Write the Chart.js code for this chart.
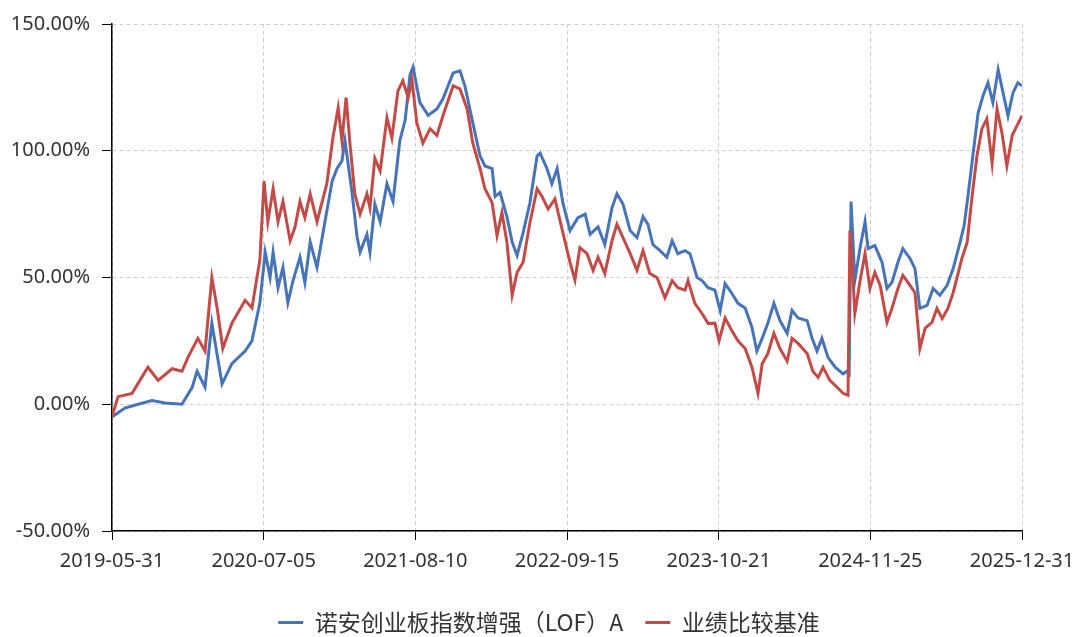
<!DOCTYPE html>
<html>
<head>
<meta charset="utf-8">
<script src="https://cdn.jsdelivr.net/npm/chart.js@4"></script>
<style>
  html, body { margin: 0; padding: 0; background: #fff; }
  #wrap { width: 1080px; height: 637px; }
</style>
</head>
<body>
<div id="wrap"><canvas id="navChart" width="1080" height="637"></canvas></div>
<script>
// series names (legend)
const seriesNames = ['诺安创业板指数增强（LOF）A', '业绩比较基准'];

// x axis tick labels, first one is day 0
const xTickLabels = ['2019-05-31', '2020-07-05', '2021-08-10', '2022-09-15', '2023-10-21', '2024-11-25', '2025-12-31'];

// y axis range (percent)
const yMin = -50, yMax = 150, yStep = 50;

// fund cumulative return: days since 2019-05-31 / percent
const fundDays = [0, 34, 69, 106, 140, 185, 212, 225, 246, 264, 291, 317, 352, 370, 391, 405, 418, 426, 439, 452,
  465, 479, 497, 510, 524, 542, 563, 582, 595, 608, 616, 635, 648, 656, 674, 682, 695, 709, 727, 743,
  761, 775, 788, 796, 814, 836, 859, 875, 902, 920, 933, 954, 973, 986, 1005, 1013, 1026, 1044, 1058, 1071,
  1087, 1105, 1124, 1132, 1150, 1163, 1177, 1192, 1211, 1232, 1251, 1264, 1285, 1303, 1322, 1335, 1351, 1370, 1388, 1404,
  1417, 1430, 1449, 1467, 1481, 1496, 1515, 1528, 1547, 1560, 1576, 1594, 1608, 1621, 1639, 1655, 1674, 1692, 1705, 1719,
  1734, 1750, 1766, 1785, 1798, 1814, 1838, 1851, 1864, 1877, 1893, 1912, 1933, 1943, 1949, 1954, 1964, 1978, 1991, 1999,
  2017, 2036, 2049, 2062, 2078, 2091, 2110, 2123, 2136, 2155, 2171, 2189, 2208, 2224, 2242, 2253, 2263, 2276, 2290, 2303,
  2316, 2329, 2343, 2356, 2369, 2382, 2395, 2406];
const fundValues = [-5, -1.5, 0, 1.5, 0.5, 0, 6.7, 13, 6.7, 32, 8, 16, 21, 25, 40, 60, 50, 60, 46, 54,
  40, 49, 58, 48, 64, 54, 72, 88, 93, 96, 104, 83, 66, 60, 67, 60, 79, 72, 87, 80,
  104, 112, 130, 133, 119, 114, 116.5, 120.5, 130.7, 131.5, 125.6, 111, 98, 94, 93, 82, 83.5, 74, 64, 58.7,
  67.7, 79.5, 98, 99, 93, 87, 93, 79.5, 68.5, 73.6, 75, 67, 70, 63, 77.5, 83, 79, 68.5, 65.7, 74,
  71, 63, 60.6, 58, 64.5, 59.4, 60.6, 59.4, 50, 48.8, 46, 45, 37, 47.6, 43.7, 39.8, 38, 30.3, 21, 26,
  31.9, 39.8, 33, 28, 37, 34, 33, 26, 21, 26, 18.5, 14.6, 12, 13, 12, 80, 48.8, 61.8, 72, 61.4,
  62.6, 56, 45.7, 48, 56, 61.4, 57.5, 53.5, 37.8, 39, 45.7, 43, 46.9, 53.5, 63.8, 70.5, 82, 98, 115, 121.7,
  126.8, 119, 132, 122.8, 113.8, 122.8, 126.8, 125.6];

// benchmark cumulative return
const benchDays = [0, 16, 53, 95, 122, 159, 185, 201, 227, 246, 264, 278, 293, 317, 352, 370, 391, 402, 412, 426,
  439, 452, 471, 484, 497, 510, 524, 542, 568, 584, 598, 608, 619, 629, 642, 656, 674, 682, 695, 709,
  727, 740, 756, 769, 783, 793, 806, 822, 841, 859, 875, 902, 920, 939, 954, 973, 986, 1005, 1018, 1031,
  1044, 1058, 1071, 1087, 1105, 1124, 1137, 1153, 1171, 1190, 1211, 1224, 1237, 1256, 1272, 1285, 1303, 1322, 1335, 1351,
  1370, 1388, 1404, 1422, 1441, 1462, 1481, 1496, 1515, 1523, 1541, 1560, 1576, 1594, 1605, 1621, 1639, 1655, 1674, 1692,
  1708, 1719, 1734, 1750, 1766, 1785, 1798, 1814, 1838, 1853, 1867, 1880, 1898, 1917, 1933, 1946, 1951, 1959, 1964, 1978,
  1991, 2004, 2017, 2031, 2049, 2062, 2078, 2091, 2110, 2123, 2136, 2150, 2168, 2181, 2195, 2210, 2224, 2247, 2261, 2274,
  2287, 2300, 2313, 2327, 2340, 2353, 2366, 2380, 2393, 2406];
const benchValues = [-5, 3, 4.3, 14.6, 9.4, 14, 13, 18.5, 26, 21, 50, 38, 22, 32, 41, 38, 57, 88, 72, 85,
  72, 80, 64.5, 70, 80, 73.6, 83, 72, 87, 105, 117, 104, 121, 103, 83, 75, 83, 77.5, 97, 92,
  113, 105, 123.6, 127.6, 121, 128, 111, 103, 108.7, 106, 113.8, 125.6, 124.4, 116.5, 103, 93, 85, 79.5, 66.5, 75.6,
  64, 43, 52, 56, 71.7, 85, 82, 77, 81, 69, 56, 49, 61.8, 59.4, 52.8, 58, 51.6, 64.5, 71, 65.7,
  59.4, 52.8, 60.6, 51.6, 50, 42, 48.8, 46, 45, 48.8, 39.8, 35.8, 31.9, 32, 25, 34, 29, 25, 22, 14.6,
  4.3, 16, 20, 28, 22, 17, 26, 24, 20, 13, 10.6, 14.6, 9.4, 6.7, 4.3, 3.5, 68.5, 50, 35.8, 48.8,
  59.5, 45.7, 52, 46.9, 32.3, 37.8, 45.7, 50.8, 46.9, 44, 22, 30, 32.3, 37.8, 33.8, 37.8, 44, 57.5, 63.8, 82,
  98, 108.7, 112.6, 95, 116.5, 107, 94, 106, 110, 113.8];

const BLUE = '#4674b6';
const RED = '#c24b47';

function dayOffset(s) {
    const [y, m, d] = s.split('-').map(Number);
    const [y0, m0, d0] = xTickLabels[0].split('-').map(Number);
    return (Date.UTC(y, m - 1, d) - Date.UTC(y0, m0 - 1, d0)) / 86400000;
}
const xTickDays = xTickLabels.map(dayOffset);

function toPoints(days, values) {
    return days.map((d, i) => ({ x: d, y: values[i] }));
}

const tickFont = { family: '"Noto Sans", "DejaVu Sans", sans-serif', size: 20 };

// legend sits lower and a bit to the right in the original
const legendPlace = {
    id: 'legendPlace',
    beforeInit(chart) {
        const fit = chart.legend.fit;
        chart.legend.fit = function () { fit.call(this); this.height = 48; };
    },
    afterLayout(chart) {
        chart.legend.left += 38;
        chart.legend.right += 38;
    }
};

document.addEventListener("DOMContentLoaded", function () {
    const ctx = document.getElementById('navChart').getContext('2d');

    new Chart(ctx, {
        type: 'line',
        data: {
            datasets: [{
                label: seriesNames[0],
                data: toPoints(fundDays, fundValues),
                borderColor: BLUE,
                backgroundColor: BLUE,
                borderWidth: 3,
                pointRadius: 0,
                tension: 0,
                order: 1
            }, {
                label: seriesNames[1],
                data: toPoints(benchDays, benchValues),
                borderColor: RED,
                backgroundColor: RED,
                borderWidth: 3,
                pointRadius: 0,
                tension: 0,
                order: 0
            }]
        },
        plugins: [legendPlace],
        options: {
            responsive: false,
            animation: false,
            layout: { padding: { left: 0, right: 58, top: 23, bottom: 0 } },
            plugins: {
                tooltip: { enabled: false },
                legend: {
                    position: 'bottom',
                    labels: {
                        sort: (a, b) => a.datasetIndex - b.datasetIndex,
                        usePointStyle: true,
                        pointStyle: 'line',
                        pointStyleWidth: 25,
                        padding: 22,
                        color: '#333',
                        font: { family: '"Noto Sans CJK SC", sans-serif', size: 23 }
                    }
                }
            },
            scales: {
                x: {
                    type: 'linear',
                    min: 0,
                    max: xTickDays[xTickDays.length - 1],
                    afterBuildTicks: scale => { scale.ticks = xTickDays.map(v => ({ value: v })); },
                    afterFit: scale => {
                        scale.height = 58;
                        scale.paddingLeft = 0;
                        scale.paddingRight = 0;
                    },
                    ticks: {
                        autoSkip: false,
                        maxRotation: 0,
                        padding: 9,
                        color: '#333',
                        font: tickFont,
                        callback: (value, index) => xTickLabels[index]
                    },
                    grid: { color: '#cfcfcf', tickColor: '#000', tickLength: 9, tickBorderDash: [] },
                    border: { display: true, color: '#000', width: 1.5, dash: [4, 3] }
                },
                y: {
                    min: yMin,
                    max: yMax,
                    afterFit: scale => { scale.width = 112; },
                    ticks: {
                        stepSize: yStep,
                        padding: 12,
                        color: '#333',
                        font: tickFont,
                        callback: v => v.toFixed(2) + '%'
                    },
                    grid: { color: '#cfcfcf', tickColor: '#000', tickLength: 10, tickBorderDash: [] },
                    border: { display: true, color: '#000', width: 1.5, dash: [4, 3] }
                }
            }
        }
    });
});
</script>
</body>
</html>
